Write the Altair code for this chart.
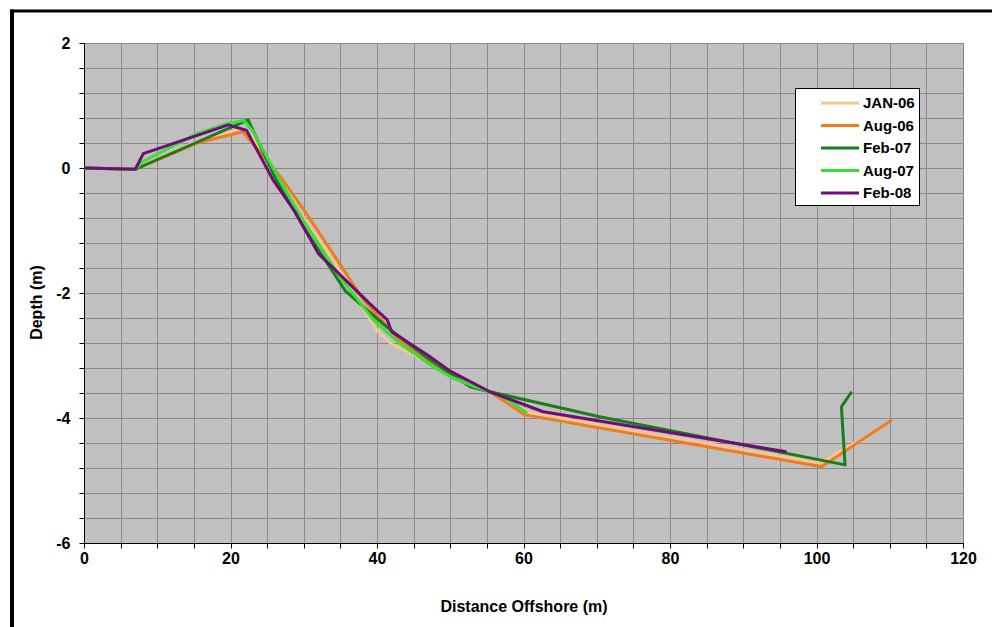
import altair as alt
import pandas as pd

series_names = ["JAN-06", "Aug-06", "Feb-07", "Aug-07", "Feb-08"]
series_colors = ["#F7C690", "#F07B1E", "#1B7C1B", "#38E038", "#6E0C78"]

jan06_x = [0, 7, 12, 17, 21.5, 23, 26.5, 30, 33, 36, 40, 42, 46, 50, 55.4, 61, 100.5, 105.5]
jan06_y = [0, -0.02, 0.25, 0.5, 0.62, 0.5, -0.15, -0.8, -1.3, -1.85, -2.6, -2.82, -3.05, -3.3, -3.58, -3.92, -4.72, -4.38]

aug06_x = [0, 7, 15.4, 21.7, 27.2, 30.2, 33.6, 38.1, 43, 47, 51, 55.4, 60.2, 100.7, 110.3]
aug06_y = [0, -0.02, 0.4, 0.58, -0.2, -0.7, -1.3, -2.1, -2.75, -3.1, -3.35, -3.58, -3.95, -4.78, -4.03]

feb07_x = [0, 7, 22.4, 26.3, 30, 35.7, 41.3, 47, 52.7, 55.4, 70.4, 103.9, 103.4, 104.8]
feb07_y = [0, -0.02, 0.77, -0.2, -0.95, -1.97, -2.54, -3.05, -3.5, -3.58, -3.98, -4.75, -3.82, -3.58]

aug07_x = [0, 7, 8, 15.4, 19.5, 21.8, 23, 26.5, 30, 35, 39.5, 43, 47.7, 50, 53, 55.4, 58, 60.5]
aug07_y = [0, -0.02, 0.1, 0.55, 0.71, 0.76, 0.6, -0.15, -0.85, -1.75, -2.43, -2.8, -3.18, -3.34, -3.48, -3.58, -3.72, -3.92]

feb08_x = [0, 7, 8.1, 19.7, 22.2, 25.8, 28.8, 32, 39, 41.4, 42, 47, 50, 55.4, 62.7, 95.9]
feb08_y = [0, -0.02, 0.23, 0.69, 0.6, -0.19, -0.7, -1.37, -2.17, -2.43, -2.62, -3.0, -3.25, -3.58, -3.9, -4.54]

x_ticks = [0, 5, 10, 15, 20, 25, 30, 35, 40, 45, 50, 55, 60, 65, 70, 75, 80, 85, 90, 95, 100, 105, 110, 115, 120]
y_ticks = [2.0, 1.6, 1.2, 0.8, 0.4, 0.0, -0.4, -0.8, -1.2, -1.6, -2.0, -2.4, -2.8, -3.2, -3.6,
           -4.0, -4.4, -4.8, -5.2, -5.6, -6.0]

all_x = [jan06_x, aug06_x, feb07_x, aug07_x, feb08_x]
all_y = [jan06_y, aug06_y, feb07_y, aug07_y, feb08_y]

rows = []
for name, xs, ys in zip(series_names, all_x, all_y):
    for i, (xv, yv) in enumerate(zip(xs, ys)):
        rows.append({"series": name, "x": xv, "y": yv, "idx": i})
df = pd.DataFrame(rows)

FONT = "Liberation Sans"

lines = alt.Chart(df).mark_line(strokeWidth=3, strokeJoin="round", clip=True).encode(
    x=alt.X(
        "x:Q",
        scale=alt.Scale(domain=[0, 120], nice=False, zero=False),
        axis=alt.Axis(
            values=x_ticks,
            labelExpr="datum.value % 20 == 0 ? toString(datum.value) : ''",
            title="Distance Offshore (m)",
            titleY=68,
            titleBaseline="alphabetic",
            labelFlush=False,
            labelOverlap=False,
            labelPadding=2,
        ),
    ),
    y=alt.Y(
        "y:Q",
        scale=alt.Scale(domain=[-6, 2], nice=False, zero=False),
        axis=alt.Axis(
            values=y_ticks,
            labelExpr="abs(datum.value / 2 - round(datum.value / 2)) < 0.01 ? toString(round(datum.value)) : ''",
            title="Depth (m)",
            titleX=-43,
            titleY=259,
            titleAngle=270,
            titleBaseline="alphabetic",
            labelFlush=False,
            labelOverlap=False,
            labelPadding=9,
        ),
    ),
    color=alt.Color(
        "series:N",
        scale=alt.Scale(domain=series_names, range=series_colors),
        legend=alt.Legend(
            orient="none",
            legendX=711,
            legendY=45,
            title=None,
            fillColor="white",
            strokeColor="black",
            padding=4,
            symbolType="M-2,0H2",
            symbolSize=361,
            symbolStrokeWidth=3,
            symbolOffset=30,
            labelFont=FONT,
            labelFontWeight="bold",
            labelFontSize=15,
            labelColor="black",
            labelOffset=12,
            rowPadding=3.5,
        ),
    ),
    order=alt.Order("idx:Q"),
)

frame_df = pd.DataFrame({"k": [0]})
top_rule = alt.Chart(frame_df).mark_rule(color="black", strokeWidth=3).encode(
    x=alt.value(-74), x2=alt.value(908), y=alt.value(-32)
)
left_rule = alt.Chart(frame_df).mark_rule(color="black", strokeWidth=4).encode(
    x=alt.value(-72), y=alt.value(-33.5), y2=alt.value(584)
)

chart = (
    alt.layer(lines, top_rule, left_rule)
    .properties(
        width=879,
        height=500,
        padding={"left": 84, "top": 43, "right": 29, "bottom": 84},
        autosize=alt.AutoSizeParams(type="none"),
        background="white",
    )
    .configure_view(fill="#C0C0C0", stroke="#555555", strokeWidth=1)
    .configure_axis(
        labelFont=FONT,
        labelFontWeight="bold",
        labelFontSize=16,
        labelColor="black",
        titleFont=FONT,
        titleFontWeight="bold",
        titleFontSize=16,
        titleColor="black",
        domainColor="black",
        domainWidth=1,
        tickColor="black",
        tickSize=5,
        gridColor="#8a8a8a",
        gridWidth=1,
        gridOpacity=1,
    )
)

chart.save("out.html", embed_options={"renderer": "svg", "actions": False})
